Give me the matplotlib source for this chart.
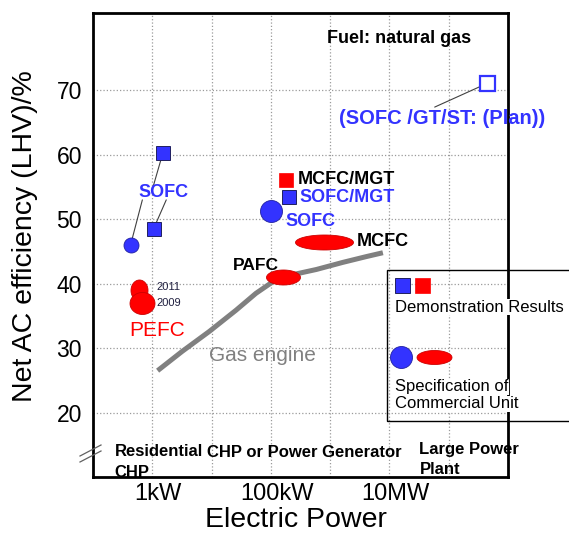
import matplotlib
matplotlib.use('Agg')
import matplotlib.pyplot as plt
import numpy as np
from matplotlib.path import Path
from matplotlib.lines import Line2D
from matplotlib.patches import Rectangle
from matplotlib.transforms import ScaledTranslation

plt.rcParams['font.family'] = ['Liberation Sans', 'DejaVu Sans']

# ---------------- data (power in kW, efficiency in % LHV) ----------------
sofc_demo_kw = [1.05, 1.5]
sofc_demo_eff = [48.5, 60.2]
sofc_res_kw = [0.43]
sofc_res_eff = [46.0]
pefc_years = ['2011', '2009']
pefc_kw = [0.6, 0.68]
pefc_eff = [39.0, 37.0]
sofc_comm_kw = [100]
sofc_comm_eff = [51.3]
sofc_mgt_kw = [200]
sofc_mgt_eff = [53.4]
mcfc_mgt_kw = [180]
mcfc_mgt_eff = [56.1]
mcfc_kw = [800]
mcfc_eff = [46.5]
pafc_kw = [160]
pafc_eff = [41.1]
plan_kw = [4.5e5]
plan_eff = [71.1]
gas_kw = [1.23, 3.2, 9.2, 26, 56, 108, 234, 585, 1630, 4070, 7760]
gas_eff = [26.5, 29.5, 32.6, 35.9, 38.5, 40.3, 41.4, 42.2, 43.3, 44.2, 44.8]

yticks = [20, 30, 40, 50, 60, 70]
xticks = [1, 100, 1e4]
xticklabels = ['1kW', '100kW', '10MW']
xgrid_minor = [0.1, 10, 1000, 1e5, 1e6]

BLUE = '#3333ff'
RED = '#ff0000'
REDEDGE = '#cc0000'
PX = 72 / 100.0  # points per pixel


def ellipse_marker(w, h):
    t = np.linspace(0, 2 * np.pi, 60)
    verts = np.column_stack([w * np.cos(t), h * np.sin(t)])
    return Path(verts, closed=True)


fig = plt.figure(figsize=(5.69, 5.33), dpi=100)
ax = fig.add_axes([93 / 569, 56 / 533, 415 / 569, 464 / 533])
ax.set_xscale('log')
ax.set_xlim(0.1, 1e6)
ax.set_ylim(10, 82)

ax.set_yticks(yticks)
ax.set_xticks(xticks)
ax.set_xticklabels(xticklabels)
ax.set_xticks(xgrid_minor, minor=True)
ax.set_xticklabels([''] * len(xgrid_minor), minor=True)
ax.tick_params(axis='both', which='both', length=0)
ax.tick_params(axis='y', labelsize=16.5, pad=8)
ax.tick_params(axis='x', labelsize=17, pad=4)
for lab in ax.get_xticklabels():
    lab.set_transform(lab.get_transform() + ScaledTranslation(6 / 100, 0, fig.dpi_scale_trans))
ax.grid(True, which='both', linestyle=':', color='#9a9a9a', linewidth=0.9)
ax.set_axisbelow(True)
for s in ax.spines.values():
    s.set_linewidth(2.0)
    s.set_color('black')

ax.set_ylabel('Net AC efficiency (LHV)/%', fontsize=20.5, va='center')
ax.yaxis.set_label_coords(-0.163, 0.519)
ax.set_xlabel('Electric Power', fontsize=20.5, va='center')
ax.xaxis.set_label_coords(0.49, -0.093)

# Gas engine curve
ax.plot(gas_kw, gas_eff, color='#808080', lw=3.6, solid_capstyle='butt',
        solid_joinstyle='round', zorder=2)

# Ellipses / circles (commercial specifications)
ax.plot(sofc_res_kw, sofc_res_eff, 'o', ms=15 * PX, mfc=BLUE, mec='#2020a0', mew=0.6, zorder=4)
ax.plot(sofc_comm_kw, sofc_comm_eff, 'o', ms=22 * PX, mfc=BLUE, mec='#2020a0', mew=0.6, zorder=4)
pefc_sizes = [(17, 21), (25, 22)]
for k, e, (w, h) in zip(pefc_kw, pefc_eff, pefc_sizes):
    ax.plot([k], [e], marker=ellipse_marker(w, h), ms=max(w, h) * PX,
            mfc=RED, mec=REDEDGE, mew=0.6, ls='none', zorder=4)
ax.plot(pafc_kw, pafc_eff, marker=ellipse_marker(34, 15), ms=34 * PX, ls='none',
        mfc=RED, mec=REDEDGE, mew=0.6, zorder=4)
ax.plot(mcfc_kw, mcfc_eff, marker=ellipse_marker(58, 15), ms=58 * PX, ls='none',
        mfc=RED, mec=REDEDGE, mew=0.6, zorder=4)

# Squares (demonstration results)
ax.plot(sofc_demo_kw, sofc_demo_eff, 's', ms=14.5 * PX, mfc=BLUE, mec='#202060', mew=0.7, ls='none', zorder=4)
ax.plot(sofc_mgt_kw, sofc_mgt_eff, 's', ms=14 * PX, mfc=BLUE, mec='#202060', mew=0.7, ls='none', zorder=4)
ax.plot(mcfc_mgt_kw, mcfc_mgt_eff, 's', ms=14 * PX, mfc=RED, mec=RED, mew=0.5, ls='none', zorder=4)
ax.plot(plan_kw, plan_eff, 's', ms=15 * PX, mfc='white', mec=BLUE, mew=1.6, ls='none', zorder=4)

# connector lines
conn = dict(arrowstyle='-', color='#404040', lw=0.8, shrinkA=0)
ax.annotate('', xy=(sofc_res_kw[0], sofc_res_eff[0]), xytext=(0.68, 53.0),
            arrowprops=dict(conn, shrinkB=4))
ax.annotate('', xy=(sofc_demo_kw[0], sofc_demo_eff[0]), xytext=(1.72, 53.0),
            arrowprops=dict(conn, shrinkB=5))
ax.annotate('', xy=(sofc_demo_kw[1], sofc_demo_eff[1]), xytext=(1.0, 54.6),
            arrowprops=dict(conn, shrinkB=5))
ax.annotate('', xy=(plan_kw[0], plan_eff[0]), xytext=(5.8e4, 67.4),
            arrowprops=dict(conn, shrinkB=6))

# labels
bold = dict(fontweight='bold')
ax.text(870, 78.0, 'Fuel: natural gas', fontsize=13, ha='left', va='center', **bold)
ax.text(7.6e4, 65.7, '(SOFC /GT/ST: (Plan))', fontsize=14.5, color=BLUE, ha='center', va='center', **bold)
ax.text(1.55, 54.2, 'SOFC', fontsize=13, color=BLUE, ha='center', va='center', **bold)
ax.text(467, 49.6, 'SOFC', fontsize=13, color=BLUE, ha='center', va='center', **bold)
ax.text(303, 53.3, 'SOFC/MGT', fontsize=13, color=BLUE, ha='left', va='center', **bold)
ax.text(284, 56.1, 'MCFC/MGT', fontsize=13, color='black', ha='left', va='center', **bold)
ax.text(2800, 46.5, 'MCFC', fontsize=13, color='black', ha='left', va='center', **bold)
ax.text(55, 42.8, 'PAFC', fontsize=12.5, color='black', ha='center', va='center', **bold)
for yr, e in zip(pefc_years, [39.5, 37.0]):
    ax.text(1.17, e, yr, fontsize=8, color='#202040', ha='left', va='center')
ax.text(1.2, 32.8, 'PEFC', fontsize=15, color=RED, ha='center', va='center')
ax.text(72, 28.8, 'Gas engine', fontsize=15, color='#808080', ha='center', va='center')

ax.text(0.23, 13.9, 'Residential', fontsize=12, ha='left', va='center', **bold)
ax.text(0.23, 10.7, 'CHP', fontsize=12, ha='left', va='center', **bold)
ax.text(8.5, 13.8, 'CHP or Power Generator', fontsize=12, ha='left', va='center', **bold)
ax.text(3.2e4, 14.3, 'Large Power', fontsize=12, ha='left', va='center', **bold)
ax.text(3.2e4, 11.2, 'Plant', fontsize=12, ha='left', va='center', **bold)

# axis break mark
W, H = 569.0, 533.0
for dy in (0, 6):
    fig.add_artist(Line2D([80 / W, 101 / W], [1 - (462 - dy) / H, 1 - (451 - dy) / H],
                          color='#606060', lw=0.9))

# legend box (figure coordinates)
fig.add_artist(Rectangle((387 / W, 1 - 421 / H), (600 - 387) / W, (421 - 270) / H,
                         transform=fig.transFigure, fill=False, ec='black', lw=1.0, zorder=5))
fig.add_artist(Line2D([402 / W], [1 - 285 / H], marker='s', ms=15 * PX, mfc=BLUE, mec='#202060',
                      mew=0.7, ls='none', zorder=6))
fig.add_artist(Line2D([422 / W], [1 - 285 / H], marker='s', ms=15 * PX, mfc=RED, mec=RED,
                      mew=0.5, ls='none', zorder=6))
fig.text(395 / W, 1 - 307 / H, 'Demonstration Results', fontsize=12, ha='left', va='center',
         bbox=dict(fc='white', ec='none', pad=0.5), zorder=6)
fig.add_artist(Line2D([401 / W], [1 - 357 / H], marker='o', ms=22 * PX, mfc=BLUE, mec='#2020a0',
                      mew=0.6, ls='none', zorder=6))
fig.add_artist(Line2D([434 / W], [1 - 357 / H], marker=ellipse_marker(35, 14), ms=35 * PX, mfc=RED,
                      mec=REDEDGE, mew=0.6, ls='none', zorder=6))
fig.text(395 / W, 1 - 387 / H, 'Specification of', fontsize=12, ha='left', va='center',
         bbox=dict(fc='white', ec='none', pad=0.5), zorder=6)
fig.text(395 / W, 1 - 404 / H, 'Commercial Unit', fontsize=12, ha='left', va='center',
         bbox=dict(fc='white', ec='none', pad=0.5), zorder=6)

fig.savefig('out.png', dpi=100)
